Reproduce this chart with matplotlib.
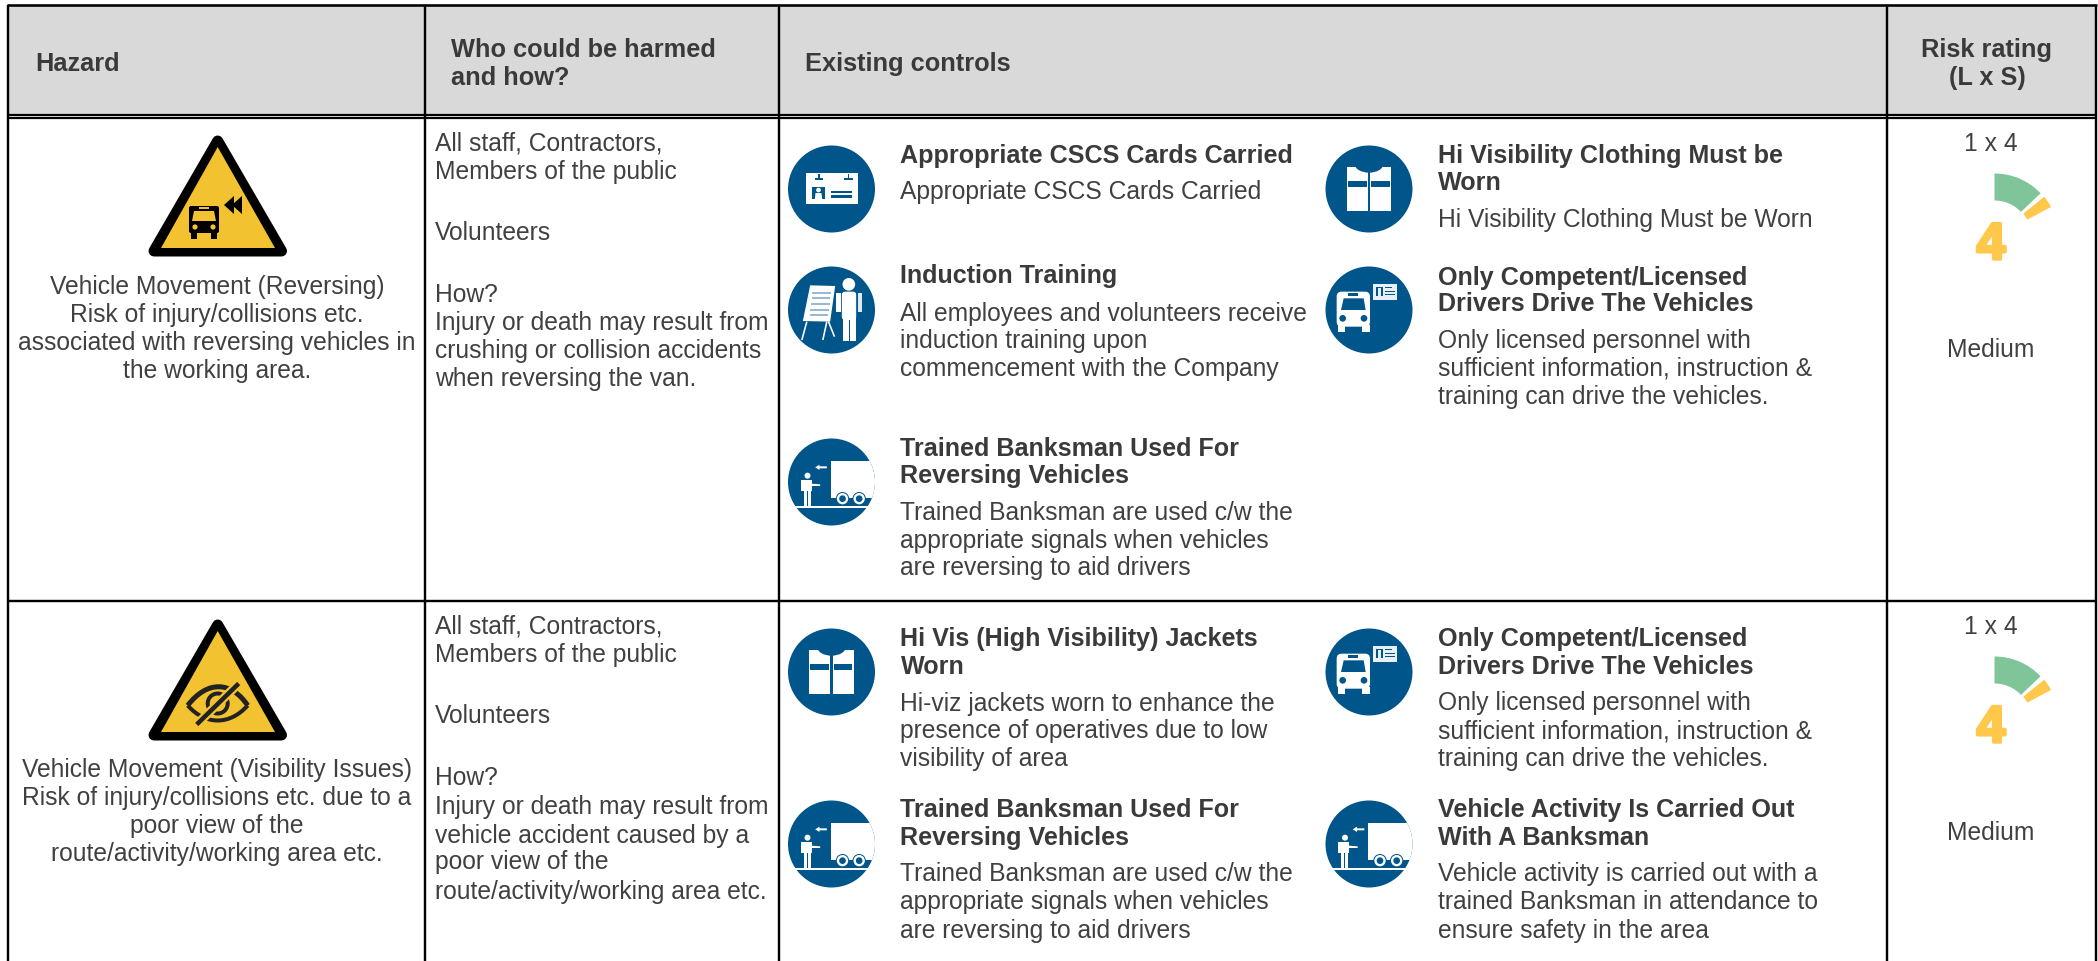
import matplotlib
matplotlib.use("Agg")
import matplotlib.pyplot as plt
import matplotlib.patheffects as pe
from matplotlib.patches import Rectangle, Circle, Polygon, Wedge, Ellipse, FancyBboxPatch, PathPatch
from matplotlib.path import Path

plt.rcParams['font.family'] = ['Liberation Sans', 'DejaVu Sans']

# ---------- data ----------
headers = ["Hazard", "Who could be harmed\nand how?", "Existing controls", "Risk rating\n(L x S)"]
hazards = [
    ["Vehicle Movement (Reversing)", "Risk of injury/collisions etc.",
     "associated with reversing vehicles in", "the working area."],
    ["Vehicle Movement (Visibility Issues)", "Risk of injury/collisions etc. due to a",
     "poor view of the", "route/activity/working area etc."],
]
who = [
    ["All staff, Contractors,", "Members of the public", "", "Volunteers", "", "How?",
     "Injury or death may result from", "crushing or collision accidents", "when reversing the van."],
    ["All staff, Contractors,", "Members of the public", "", "Volunteers", "", "How?",
     "Injury or death may result from", "vehicle accident caused by a", "poor view of the",
     "route/activity/working area etc."],
]
controls_row1 = [
    ("card", ["Appropriate CSCS Cards Carried"], ["Appropriate CSCS Cards Carried"]),
    ("training", ["Induction Training"], ["All employees and volunteers receive", "induction training upon",
                                          "commencement with the Company"]),
    ("truck", ["Trained Banksman Used For", "Reversing Vehicles"],
     ["Trained Banksman are used c/w the", "appropriate signals when vehicles", "are reversing to aid drivers"]),
    ("vest", ["Hi Visibility Clothing Must be", "Worn"], ["Hi Visibility Clothing Must be Worn"]),
    ("bus", ["Only Competent/Licensed", "Drivers Drive The Vehicles"],
     ["Only licensed personnel with", "sufficient information, instruction &", "training can drive the vehicles."]),
]
controls_row2 = [
    ("vest", ["Hi Vis (High Visibility) Jackets", "Worn"],
     ["Hi-viz jackets worn to enhance the", "presence of operatives due to low", "visibility of area"]),
    ("truck", ["Trained Banksman Used For", "Reversing Vehicles"],
     ["Trained Banksman are used c/w the", "appropriate signals when vehicles", "are reversing to aid drivers"]),
    ("bus", ["Only Competent/Licensed", "Drivers Drive The Vehicles"],
     ["Only licensed personnel with", "sufficient information, instruction &", "training can drive the vehicles."]),
    ("truck", ["Vehicle Activity Is Carried Out", "With A Banksman"],
     ["Vehicle activity is carried out with a", "trained Banksman in attendance to", "ensure safety in the area"]),
]
risk_formula = ["1 x 4", "1 x 4"]
risk_score = ["4", "4"]
risk_label = ["Medium", "Medium"]

# ---------- layout ----------
W, H = 2098, 962
S = W / 1568
fig = plt.figure(figsize=(W / 100, H / 100), dpi=100, facecolor="white")
ax = fig.add_axes([0, 0, 1, 1])
ax.set_xlim(0, W); ax.set_ylim(H, 0); ax.axis("off")

TXT = "#404040"; HEAD = "#3a3a3a"; BLUE = "#00558a"; WHITE = "white"
YEL = "#f2c230"; GREEN = "#80c49a"; ORANGE = "#ffc84a"
BODY = 17.7; BOLD = 18.1; HB = 18.3
px = 0.72


def T(x, y, s, size=BODY, weight="normal", ha="left", color=TXT):
    ax.text(x * S, y * S + 9, s, fontsize=size, fontweight=weight, ha=ha, va="baseline", color=color)


def R(x0, y0, x1, y1, c, **k):
    ax.add_patch(Rectangle((x0, y0), x1 - x0, y1 - y0, fc=c, ec="none", **k))


# table frame
R(8, 6, 2096, 116, "#d9d9d9")
for xv in (8, 424.5, 779, 1887, 2096):
    ax.plot([xv, xv], [6, H], color="black", lw=2.4 * px, solid_capstyle="butt", zorder=5)
for yh, lw in ((6, 2.6), (115.5, 2.2), (118.6, 2.2), (601.5, 2.4)):
    ax.plot([7, 2097], [yh, yh], color="black", lw=lw * px, solid_capstyle="butt", zorder=5)

# headers
h_lines = [l.split("\n") for l in headers]
T(26.5, 46, h_lines[0][0], HB, "bold", color=HEAD)
T(337, 36, h_lines[1][0], HB, "bold", color=HEAD)
T(337, 57, h_lines[1][1], HB, "bold", color=HEAD)
T(602, 46, h_lines[2][0], HB, "bold", color=HEAD)
T(1485, 36, h_lines[3][0], HB, "bold", "center", color=HEAD)
T(1485, 57, h_lines[3][1], HB, "bold", "center", color=HEAD)


# ---------- icons ----------
def base(cx, cy):
    c = Circle((cx, cy), 43.5, fc=BLUE, ec="none", zorder=2)
    ax.add_patch(c)
    return c


def add(p, zorder=3, clip=None):
    p.set_zorder(zorder)
    ax.add_patch(p)
    if clip is not None:
        p.set_clip_path(clip)
    return p


def rect(cx, cy, x0, y0, x1, y1, c, z=3, clip=None):
    add(Rectangle((cx + x0 / 3, cy + y0 / 3), (x1 - x0) / 3, (y1 - y0) / 3, fc=c, ec="none"), z, clip)


def poly(cx, cy, pts, c, z=3, clip=None):
    add(Polygon([(cx + a / 3, cy + b / 3) for a, b in pts], closed=True, fc=c, ec="none"), z, clip)


def line(cx, cy, a, b, c=WHITE, lw=1.6, z=3):
    ax.plot([cx + a[0] / 3, cx + b[0] / 3], [cy + a[1] / 3, cy + b[1] / 3], color=c, lw=lw * px, zorder=z,
            solid_capstyle="butt")


def circ(cx, cy, x, y, r, c, z=3, clip=None):
    add(Circle((cx + x / 3, cy + y / 3), r / 3, fc=c, ec="none"), z, clip)


def icon_card(cx, cy):
    base(cx, cy)
    rect(cx, cy, -76, -47, 78, 46, WHITE)
    for xa in (-38, 50):
        rect(cx, cy, xa - 13, -33, xa + 13, -27, BLUE, 4)
        rect(cx, cy, xa - 2, -45, xa + 2, -30, BLUE, 4)
    rect(cx, cy, -59, -6, -19, 30, BLUE, 4)
    circ(cx, cy, -39, 3, 7, WHITE, 5)
    poly(cx, cy, [(-50, 30), (-48, 12), (-30, 12), (-28, 30)], WHITE, 5)
    rect(cx, cy, -2, 5, 62, 12, BLUE, 4)
    rect(cx, cy, -2, 19, 62, 26, BLUE, 4)


def icon_training(cx, cy):
    base(cx, cy)
    poly(cx, cy, [(-64, -74), (11, -72), (-4, 35), (-86, 33)], WHITE)
    for i in range(5):
        y = -52 + i * 17
        line(cx, cy, (-58 - i * 2, y), (-2 - i * 2, y), "#7fa8c4", 1.6, 4)
    line(cx, cy, (-74, 35), (-89, 90))
    line(cx, cy, (-14, 35), (-26, 90))
    line(cx, cy, (-9, 35), (9, 80))
    circ(cx, cy, 52, -77, 19, WHITE)
    add(FancyBboxPatch((cx + 31 / 3, cy - 55 / 3), 43 / 3, 85 / 3, boxstyle="round,pad=0,rounding_size=3", fc=WHITE, ec="none"))
    rect(cx, cy, 33, 20, 51, 92, WHITE)
    rect(cx, cy, 56, 20, 74, 92, WHITE)
    rect(cx, cy, 14, -50, 28, 5, WHITE)
    rect(cx, cy, 78, -50, 90, 5, "#dfe9f0")


def icon_truck(cx, cy):
    c = base(cx, cy)
    clip = Circle((cx, cy), 43.5, transform=ax.transData)
    rect(cx, cy, -109, 73, 108, 77, WHITE)
    rect(cx, cy, -2, -62, 131, 48, WHITE, 3, clip)
    for xw in (33, 83):
        circ(cx, cy, xw, 50, 20, BLUE, 4, clip)
        circ(cx, cy, xw, 50, 17, WHITE, 5, clip)
        circ(cx, cy, xw, 50, 10, BLUE, 6, clip)
    circ(cx, cy, -72, -19, 9, WHITE)
    rect(cx, cy, -92, -7, -60, 28, WHITE)
    rect(cx, cy, -84, 28, -74, 71, WHITE)
    rect(cx, cy, -71, 28, -62, 71, WHITE)
    poly(cx, cy, [(-60, 5), (-34, 7), (-34, 12), (-60, 12)], WHITE)
    poly(cx, cy, [(-14, -47), (-36, -47), (-36, -52), (-49, -44), (-36, -36), (-36, -41), (-14, -41)], WHITE)


def icon_vest(cx, cy):
    base(cx, cy)
    rect(cx, cy, -67, -66, -4, 67, WHITE)
    rect(cx, cy, 3, -66, 66, 67, WHITE)
    add(Ellipse((cx, cy - 75 / 3), 86 / 3, 52 / 3, fc=BLUE, ec="none"), 4)
    rect(cx, cy, -64, -25, -7, -6, BLUE, 4)
    rect(cx, cy, 6, -25, 62, -6, BLUE, 4)


def icon_bus(cx, cy):
    base(cx, cy)
    add(FancyBboxPatch((cx - 97 / 3, cy - 55 / 3), 100 / 3, 105 / 3, boxstyle="round,pad=0,rounding_size=5", fc=WHITE, ec="none"))
    rect(cx, cy, -92, 45, -72, 67, WHITE)
    rect(cx, cy, -22, 45, 3, 67, WHITE)
    poly(cx, cy, [(-76, -35), (-16, -35), (-10, 0), (-84, 0)], BLUE, 4)
    rect(cx, cy, -62, -50, -34, -43, BLUE, 4)
    circ(cx, cy, -79, 25, 10, BLUE, 4)
    circ(cx, cy, -15, 25, 10, BLUE, 4)
    rect(cx, cy, 13, -77, 85, -30, "#e8f0f5")
    rect(cx, cy, 20, -70, 43, -42, BLUE, 4)
    rect(cx, cy, 26, -66, 37, -42, "#e8f0f5", 5)
    rect(cx, cy, 47, -68, 68, -65, BLUE, 4)
    rect(cx, cy, 47, -58, 78, -55, BLUE, 4)
    rect(cx, cy, 47, -49, 78, -46, BLUE, 4)


icons = dict(card=icon_card, training=icon_training, truck=icon_truck, vest=icon_vest, bus=icon_bus)


def triangle(dy):
    ax.add_patch(Polygon([(217.7, 142 + dy), (154, 252 + dy), (281.5, 252 + dy)], closed=True, fc="black",
                         ec="black", lw=11 * px, joinstyle="round", zorder=2))
    ax.add_patch(Polygon([(217.7, 148 + dy), (161, 249 + dy), (275, 249 + dy)], closed=True, fc=YEL, ec="none", zorder=3))


def bus_sign():
    add(FancyBboxPatch((189, 207), 30, 27, boxstyle="round,pad=0,rounding_size=2", fc="black", ec="none"), 4)
    R(191, 234, 197, 240, "black", zorder=4)
    R(211, 234, 217, 240, "black", zorder=4)
    add(Polygon([(194, 212), (214, 212), (216, 222), (192, 222)], closed=True, fc=YEL, ec="none"), 5)
    R(199, 207.5, 209, 209.5, YEL, zorder=5)
    add(Circle((195, 228), 2.6, fc=YEL, ec="none"), 5)
    add(Circle((213, 228), 2.6, fc=YEL, ec="none"), 5)
    for x0 in (224, 232):
        add(Polygon([(x0, 206), (x0 + 10, 197), (x0 + 10, 215)], closed=True, fc="black", ec="none"), 5)


def eye_sign(dy):
    cx, cy = 217.7, 220.5 + dy
    up = Path([(cx - 30, cy + 2), (cx - 10, cy - 24), (cx + 14, cy - 22), (cx + 30, cy + 2)],
              [Path.MOVETO, Path.CURVE4, Path.CURVE4, Path.CURVE4])
    lo = Path([(cx - 30, cy + 2), (cx - 12, cy + 22), (cx + 12, cy + 22), (cx + 30, cy + 2)],
              [Path.MOVETO, Path.CURVE4, Path.CURVE4, Path.CURVE4])
    for p, lw in ((up, 5), (lo, 4)):
        add(PathPatch(p, fc="none", ec="#222222", lw=lw * px), 4)
    add(Circle((cx, cy), 10, fc="none", ec="#222222", lw=4 * px), 4)
    ax.plot([cx - 21, cx + 21], [cy + 21, cy - 20], color=YEL, lw=9 * px, zorder=5, solid_capstyle="butt")
    ax.plot([cx - 21, cx + 21], [cy + 21, cy - 20], color="#222222", lw=4.5 * px, zorder=6, solid_capstyle="butt")


triangle(0); bus_sign()
triangle(484); eye_sign(484)

# ---------- body text ----------
haz_y = [213, 234, 255, 276]
for row, lines in enumerate(hazards):
    for y, s in zip(haz_y, lines):
        T(162, y + row * 361, s, ha="center")

who_y = [
    [106, 127, 150, 173, 196, 219, 240, 261, 282],
    [467, 488, 511, 534, 557, 580, 602, 623, 643, 665],
]
for ys, lines in zip(who_y, who):
    for y, s in zip(ys, lines):
        if s:
            T(325, y, s)


def control(cell, cx_icon, xt, tys, bys, cy_icon):
    name, title, body = cell
    icons[name](cx_icon, cy_icon)
    for y, s in zip(tys, title):
        T(xt, y, s, BOLD, "bold", color=HEAD)
    for y, s in zip(bys, body):
        T(xt, y, s)


L, Rr = 831.5, 1369
control(controls_row1[0], L, 673, [115], [142], 190)
control(controls_row1[1], L, 673, [205], [233, 253, 274], 311)
control(controls_row1[2], L, 673, [334, 354], [382, 403, 423], 483)
control(controls_row1[3], Rr, 1075, [115, 135], [163], 190)
control(controls_row1[4], Rr, 1075, [206, 226], [253, 274, 295], 311)
control(controls_row2[0], L, 673, [476, 497], [525, 545, 566], 673)
control(controls_row2[1], L, 673, [604, 625], [652, 673, 694], 845)
control(controls_row2[2], Rr, 1075, [476, 497], [524, 545, 566], 673)
control(controls_row2[3], Rr, 1075, [604, 625], [652, 673, 694], 845)

# ---------- risk gauges ----------
for row, dy in enumerate((0, 483)):
    T(1488, 106 + row * 361, risk_formula[row], ha="center")
    T(1488, 260 + row * 361, risk_label[row], ha="center")
    # y axis is inverted, so angles are mirrored
    ax.add_patch(Wedge((1994.5, 238 + dy), 63.5, -90, -43.5, width=27, fc=GREEN, ec="none", zorder=3))
    ax.add_patch(Wedge((1994.5, 238 + dy), 64, -39, -28, width=27, fc=ORANGE, ec="none", zorder=3))
    ax.text(1991, 260 + dy, risk_score[row], fontsize=37, fontweight="bold", ha="center", va="baseline",
            color=ORANGE, zorder=4,
            path_effects=[pe.withStroke(linewidth=2.5, foreground=ORANGE, capstyle="round", joinstyle="round")])

fig.savefig("out.png", dpi=100, facecolor="white")
